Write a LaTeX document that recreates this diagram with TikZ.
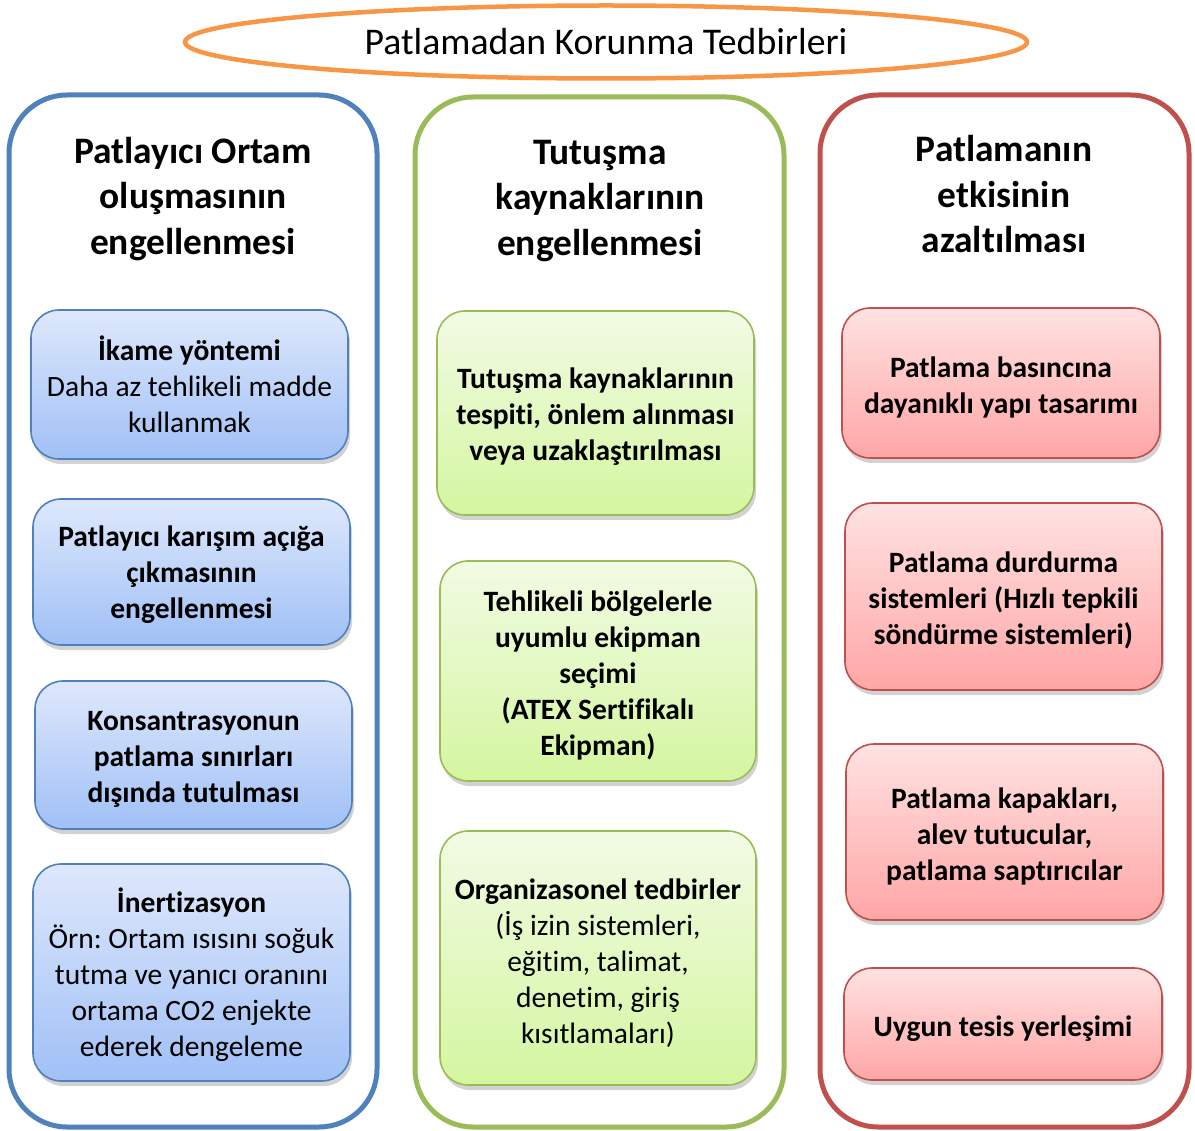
\documentclass[tikz,border=0pt]{standalone}
\usepackage{fontspec}
\setmainfont{Carlito}[Ligatures=NoCommon]
\usetikzlibrary{shapes.geometric,shadows}
\definecolor{orn}{HTML}{F79646}
\definecolor{bl}{HTML}{4F81BD}
\definecolor{gr}{HTML}{9BBB59}
\definecolor{rd}{HTML}{C0504D}
\definecolor{blT}{RGB}{222,232,252}
\definecolor{blB}{RGB}{160,192,246}
\definecolor{grT}{RGB}{242,251,228}
\definecolor{grB}{RGB}{212,246,160}
\definecolor{rdT}{RGB}{255,226,226}
\definecolor{rdB}{RGB}{255,166,166}
\newcommand{\itf}{\fontsize{29.5}{36}\selectfont\frenchspacing}
\newcommand{\hdf}{\fontsize{37.4}{45.5}\selectfont\bfseries}
\begin{document}
\begin{tikzpicture}[x=1pt,y=-1pt,
  container/.style={draw, line width=5pt, rounded corners=58pt},
  item/.style={draw, line width=1.6pt, rounded corners=28pt,
    drop shadow={shadow xshift=2pt, shadow yshift=-5pt, opacity=0.35}},
  txt/.style={align=center, font=\itf, yshift=-4pt},
  bitem/.style={item, draw=bl, top color=blT, bottom color=blB},
  gitem/.style={item, draw=gr, top color=grT, bottom color=grB},
  ritem/.style={item, draw=rd, top color=rdT, bottom color=rdB},
  hdr/.style={align=center, font=\hdf}
]
\useasboundingbox (0,0) rectangle (1195,1131);
\fill[white] (0,0) rectangle (1195,1131);

% title
\node[ellipse, draw=orn, line width=4.5pt, minimum width=842pt, minimum height=73pt, inner sep=0pt, font=\fontsize{37.7}{44}\selectfont] (title) at (606,42) {Patlamadan Korunma Tedbirleri};

% containers
\node[container, draw=bl, minimum width=368pt, minimum height=1032pt] (cl) at (193,611) {};
\node[container, draw=gr, minimum width=369pt, minimum height=1030pt] (cm) at (599.5,612) {};
\node[container, draw=rd, minimum width=369pt, minimum height=1032pt] (cr) at (1004.5,611) {};

% headers
\node[hdr] (hl) at (193,199) {Patlayıcı Ortam\\oluşmasının\\engellenmesi};
\node[hdr] (hm) at (600,201) {Tutuşma\\kaynaklarının\\engellenmesi};
\node[hdr] (hr) at (1004,194.5) {Patlamanın\\etkisinin\\azaltılması};

% left items
\node[bitem, minimum width=317pt, minimum height=149pt, label={[txt, yshift=4pt]center:{\textbf{İkame yöntemi}\\Daha az tehlikeli madde\\kullanmak}}] (l1) at (189.5,384.5) {};
\node[bitem, minimum width=317pt, minimum height=146pt, label={[txt, yshift=1pt]center:{\textbf{Patlayıcı karışım açığa}\\\textbf{çıkmasının}\\\textbf{engellenmesi}}}] (l2) at (191.5,572) {};
\node[bitem, minimum width=317pt, minimum height=148pt, label={[txt]center:{\textbf{Konsantrasyonun}\\\textbf{patlama sınırları}\\\textbf{dışında tutulması}}}] (l3) at (193.5,755) {};
\node[bitem, minimum width=317pt, minimum height=217pt, label={[txt, yshift=2pt]center:{\textbf{İnertizasyon}\\Örn: Ortam ısısını soğuk\\tutma ve yanıcı oranını\\ortama CO2 enjekte\\ederek dengeleme}}] (l4) at (191.5,972.5) {};

% middle items
\node[gitem, minimum width=317pt, minimum height=204pt, label={[txt]center:{\textbf{Tutuşma kaynaklarının}\\\textbf{tespiti, önlem alınması}\\\textbf{veya uzaklaştırılması}}}] (m1) at (595.5,413) {};
\node[gitem, minimum width=316pt, minimum height=220pt, label={[txt]center:{\textbf{Tehlikeli bölgelerle}\\\textbf{uyumlu ekipman}\\\textbf{seçimi}\\\textbf{(ATEX Sertifikalı}\\\textbf{Ekipman)}}}] (m2) at (598,671) {};
\node[gitem, minimum width=316pt, minimum height=254pt, label={[txt, yshift=-1pt]center:{\textbf{Organizasonel tedbirler}\\(İş izin sistemleri,\\eğitim, talimat,\\denetim, giriş\\kısıtlamaları)}}] (m3) at (598,958) {};

% right items
\node[ritem, minimum width=318pt, minimum height=150pt, label={[txt]center:{\textbf{Patlama basıncına}\\\textbf{dayanıklı yapı tasarımı}}}] (r1) at (1001,383) {};
\node[ritem, minimum width=317pt, minimum height=187pt, label={[txt]center:{\textbf{Patlama durdurma}\\\textbf{sistemleri (Hızlı tepkili}\\\textbf{söndürme sistemleri)}}}] (r2) at (1003.5,596.5) {};
\node[ritem, minimum width=317pt, minimum height=176pt, label={[txt]center:{\textbf{Patlama kapakları,}\\\textbf{alev tutucular,}\\\textbf{patlama saptırıcılar}}}] (r3) at (1004.5,832) {};
\node[ritem, minimum width=318pt, minimum height=112pt, label={[txt, yshift=-1pt]center:{\textbf{Uygun tesis yerleşimi}}}] (r4) at (1003,1024) {};
\end{tikzpicture}
\end{document}
